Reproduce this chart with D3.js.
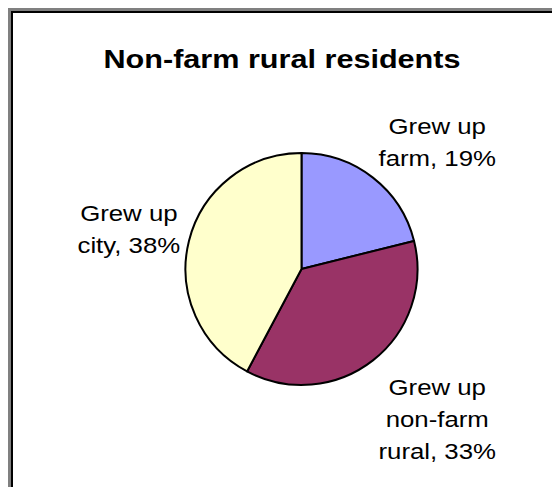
<!DOCTYPE html>
<html><head><meta charset="utf-8">
<script src="https://cdn.jsdelivr.net/npm/d3@7"></script>
<style>body{margin:0;background:#fff}svg{display:block}text{font-family:"Liberation Sans",Arial,sans-serif;fill:#000}</style>
</head><body>
<script>
const title = "Non-farm rural residents";
const categories = ["Grew up farm", "Grew up non-farm rural", "Grew up city"];
const values = [19, 33, 38];
const labelLines = [["Grew up", "farm, 19%"], ["Grew up", "non-farm", "rural, 33%"], ["Grew up", "city, 38%"]];
const colors = ["#9999FF", "#993366", "#FFFFCC"];

const W = 552, H = 487;
const svg = d3.select("body").append("svg").attr("width", W).attr("height", H);

// frame
svg.append("path").attr("d", `M9.5,${H} V9.5 H${W}`).attr("fill", "none").attr("stroke", "#808080").attr("stroke-width", 3);
svg.append("path").attr("d", `M12,${H} V12 H${W}`).attr("fill", "none").attr("stroke", "#000").attr("stroke-width", 2);

const sx = 1.2;
// title
svg.append("g").attr("transform", `translate(282,68) scale(${sx},1)`)
  .append("text").attr("text-anchor", "middle").attr("font-weight", "bold").attr("font-size", 25.5).text(title);

const cx = 301.5, cy = 269, r = 116;
const pie = d3.pie().sort(null).value(d => d)(values);
const arc = d3.arc().innerRadius(0).outerRadius(r);
const g = svg.append("g").attr("transform", `translate(${cx},${cy})`);
g.selectAll("path").data(pie).join("path")
  .attr("d", arc).attr("fill", (d, i) => colors[i])
  .attr("stroke", "#000").attr("stroke-width", 2).attr("stroke-linejoin", "round");

const fs = 21.5, lh = 32;
pie.forEach((d, i) => {
  const a = (d.startAngle + d.endAngle) / 2;
  const s = Math.sin(a), c = Math.cos(a);
  const px = cx + (r + 9) * s, py = cy - (r + 9) * c;
  const lines = labelLines[i];
  const lg = svg.append("g");
  const inner = lg.append("g").attr("transform", `scale(${sx},1)`);
  const texts = lines.map((t, k) => inner.append("text").attr("text-anchor", "middle")
    .attr("font-size", fs).attr("y", k * lh).text(t));
  const w = d3.max(texts, t => t.node().getComputedTextLength()) * sx;
  const h = lines.length * lh;
  const clamp = v => Math.max(-1, Math.min(1, v));
  const bx = px + (w / 2) * clamp(s / 0.5);
  const by = py - h / 2 - (h / 2) * clamp(c / 0.6);
  lg.attr("transform", `translate(${bx},${by + lh * 0.86})`);
});
</script>
</body></html>
